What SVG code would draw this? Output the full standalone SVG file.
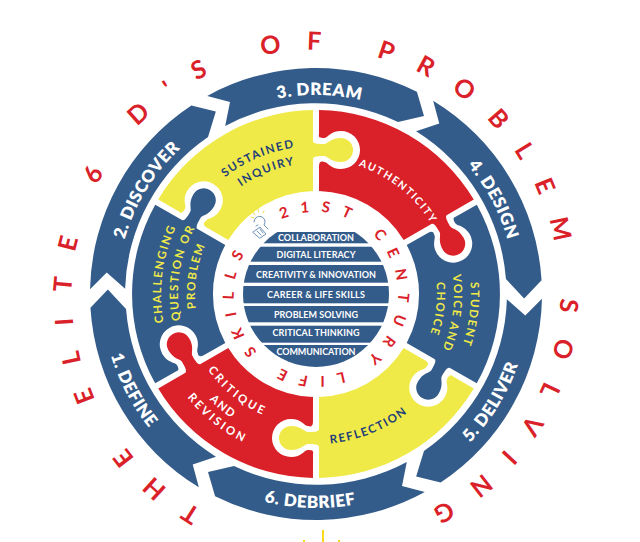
<svg xmlns="http://www.w3.org/2000/svg" width="640" height="542" viewBox="0 0 640 542">
<style>
text{font-family:"Lato","Liberation Sans",sans-serif;font-weight:700;text-anchor:middle}
.blue{fill:#345C8A}.yellow{fill:#F0EA48}.red{fill:#DA2129}
.step{fill:#fff;font-size:17px;letter-spacing:.5px;font-weight:800}
.title{fill:#DA2129;font-size:25px;letter-spacing:25.2px}
.inner{fill:#DA2129;font-size:15px;letter-spacing:11.6px;word-spacing:2px}
.pz{font-size:11.5px;letter-spacing:1.6px}
.row{fill:#fff;font-size:9px}
</style>
<defs>
<path id="seg" d="M-108.8,-198.1 A226 226 0 0 1 100.9,-202.2 L108,-178 L82,-172 A191 191 0 0 0 -90.8,-168 L-86,-192 Z"/>
<path id="piece" d="M-157.8,-94.6 A184 184 0 0 1 -3,-183.9 L-3,-153 C-3,-150 3,-150 8,-150 C12,-150 14,-156 25,-156 A12 12 0 0 1 25,-132 C14,-132 12,-138 8,-138 C3,-138 -3,-138 -3,-135 L-3,-103 A103 103 0 0 0 -87.7,-54.1 L-109.3,-66.6 C-112.8,-68.6 -112.8,-71 -110.3,-72.9 C-108.3,-76.4 -101.25,-74.6 -95.75,-84.15 A19 19 0 0 0 -128.7,-103.15 C-134.2,-93.6 -129.1,-88.4 -131.1,-84.9 C-133.6,-80.6 -135,-80.6 -137.1,-82.6 Z"/>
<clipPath id="tableClip"><circle cx="316" cy="294" r="73"/></clipPath>
<path id="cw199" d="M0,199 A199 199 0 1 1 0,-199 A199 199 0 1 1 0,199"/>
<path id="ccw214" d="M0,-214 A214 214 0 1 0 0,214 A214 214 0 1 0 0,-214"/>
<path id="cw244" d="M0,244 A244 244 0 1 1 0,-244 A244 244 0 1 1 0,244"/>
<path id="cw82" d="M0,82 A82 82 0 1 1 0,-82 A82 82 0 1 1 0,82"/>
<path id="cw148" d="M0,148 A148 148 0 1 1 0,-148 A148 148 0 1 1 0,148"/>
<path id="cw131" d="M0,131 A131 131 0 1 1 0,-131 A131 131 0 1 1 0,131"/>
<path id="cw135" d="M0,135 A135 135 0 1 1 0,-135 A135 135 0 1 1 0,135"/>
<path id="cw155" d="M0,155 A155 155 0 1 1 0,-155 A155 155 0 1 1 0,155"/>
<path id="cw138" d="M0,138 A138 138 0 1 1 0,-138 A138 138 0 1 1 0,138"/>
<path id="cw121" d="M0,121 A121 121 0 1 1 0,-121 A121 121 0 1 1 0,121"/>
<path id="ccw132" d="M0,-132 A132 132 0 1 0 0,132 A132 132 0 1 0 0,-132"/>
<path id="ccw150" d="M0,-150 A150 150 0 1 0 0,150 A150 150 0 1 0 0,-150"/>
<path id="ccw165" d="M0,-165 A165 165 0 1 0 0,165 A165 165 0 1 0 0,-165"/>
</defs>
<rect width="640" height="542" fill="#fff"/>

<g id="title"><g transform="translate(316 294)"><text class="title" transform="rotate(2.7)"><textPath href="#cw244" startOffset="50%">THE ELITE 6 D'S OF PROBLEM SOLVING</textPath></text></g></g>

<g id="connectors"></g>

<g id="step-3-dream" transform="translate(316 294)"><use href="#seg" class="blue"/><text class="step" transform="rotate(1)"><textPath href="#cw199" startOffset="50%">3. DREAM</textPath></text></g>
<g id="step-4-design" transform="translate(316 294)"><use href="#seg" class="blue" transform="rotate(60)"/><text class="step" transform="rotate(62)"><textPath href="#cw199" startOffset="50%">4. DESIGN</textPath></text></g>
<g id="step-5-deliver" transform="translate(316 294)"><use href="#seg" class="blue" transform="rotate(120)"/><text class="step" transform="rotate(-58.4)"><textPath href="#ccw214" startOffset="50%">5. DELIVER</textPath></text></g>
<g id="step-6-debrief" transform="translate(316 294)"><use href="#seg" class="blue" transform="rotate(180)"/><text class="step" transform="rotate(1.6)"><textPath href="#ccw214" startOffset="50%">6. DEBRIEF</textPath></text></g>
<g id="step-1-define" transform="translate(316 294)"><use href="#seg" class="blue" transform="rotate(240)"/><text class="step" transform="rotate(62.3)"><textPath href="#ccw214" startOffset="50%">1. DEFINE</textPath></text></g>
<g id="step-2-discover" transform="translate(316 294)"><use href="#seg" class="blue" transform="rotate(300)"/><text class="step" transform="rotate(-58.5)"><textPath href="#cw199" startOffset="50%">2. DISCOVER</textPath></text></g>

<g id="sustained-inquiry" transform="translate(316 294)"><use href="#piece" class="yellow"/>
<text class="pz" fill="#1F3F78" transform="rotate(-23)"><textPath href="#cw148" startOffset="50%">SUSTAINED</textPath></text>
<text class="pz" fill="#1F3F78" transform="rotate(-22)"><textPath href="#cw131" startOffset="50%">INQUIRY</textPath></text></g>
<g id="authenticity" transform="translate(316 294)"><use href="#piece" class="red" transform="rotate(60)"/>
<text class="pz" fill="#fff" transform="rotate(38.6)" style="font-size:10.5px"><textPath href="#cw135" startOffset="50%">AUTHENTICITY</textPath></text></g>
<g id="student-voice" transform="translate(316 294)"><use href="#piece" class="blue" transform="rotate(120)"/>
<text class="pz" fill="#F0EA48" transform="rotate(97.5)"><textPath href="#cw155" startOffset="50%">STUDENT</textPath></text>
<text class="pz" fill="#F0EA48" transform="rotate(98)"><textPath href="#cw138" startOffset="50%">VOICE AND</textPath></text>
<text class="pz" fill="#F0EA48" transform="rotate(97)"><textPath href="#cw121" startOffset="50%">CHOICE</textPath></text></g>
<g id="reflection" transform="translate(316 294)"><use href="#piece" class="yellow" transform="rotate(180)"/>
<text class="pz" fill="#1F3F78" transform="rotate(-21.7)"><textPath href="#ccw150" startOffset="50%">REFLECTION</textPath></text></g>
<g id="critique" transform="translate(316 294)"><use href="#piece" class="red" transform="rotate(240)"/>
<text class="pz" fill="#fff" transform="rotate(39)" style="letter-spacing:2.6px"><textPath href="#ccw132" startOffset="50%">CRITIQUE</textPath></text>
<text class="pz" fill="#fff" transform="rotate(39.5)"><textPath href="#ccw150" startOffset="50%">AND</textPath></text>
<text class="pz" fill="#fff" transform="rotate(38.4)" style="letter-spacing:2.6px"><textPath href="#ccw165" startOffset="50%">REVISION</textPath></text></g>
<g id="challenging" transform="translate(316 294)"><use href="#piece" class="blue" transform="rotate(300)"/>
<text class="pz" fill="#F0EA48" transform="rotate(-82.4)"><textPath href="#cw155" startOffset="50%">CHALLENGING</textPath></text>
<text class="pz" fill="#F0EA48" transform="rotate(-81)"><textPath href="#cw138" startOffset="50%">QUESTION OR</textPath></text>
<text class="pz" fill="#F0EA48" transform="rotate(-81.4)"><textPath href="#cw121" startOffset="50%">PROBLEM</textPath></text></g>

<g id="skills-title" transform="translate(316 294)"><text class="inner" transform="rotate(141)"><textPath href="#cw82" startOffset="50%">21ST CENTURY LIFE SKILLS</textPath></text></g>

<g id="skills-table">
<g clip-path="url(#tableClip)" class="blue">
<rect x="240" y="232" width="152" height="11.3"/>
<rect x="240" y="246.7" width="152" height="15"/>
<rect x="240" y="265" width="152" height="17.7"/>
<rect x="240" y="286" width="152" height="17.3"/>
<rect x="240" y="306" width="152" height="16.3"/>
<rect x="240" y="325.7" width="152" height="17"/>
<rect x="240" y="345" width="152" height="22"/>
</g>
<text class="row" x="316" y="240.5" textLength="76">COLLABORATION</text>
<text class="row" x="316" y="258" textLength="79">DIGITAL LITERACY</text>
<text class="row" x="316" y="278" textLength="120">CREATIVITY &amp; INNOVATION</text>
<text class="row" x="316" y="297.5" textLength="98">CAREER &amp; LIFE SKILLS</text>
<text class="row" x="316" y="317.5" textLength="84">PROBLEM SOLVING</text>
<text class="row" x="316" y="336" textLength="87">CRITICAL THINKING</text>
<text class="row" x="316" y="355" textLength="79">COMMUNICATION</text>
</g>

<g id="logo-icon" fill="none" stroke-linecap="round">
<g stroke="#F0D94A" stroke-width="1"><path d="M251,217l3,1M253,212l2,3M258,209l.5,3M264,211l-1,2"/></g>
<g stroke="#6F92B8" stroke-width="1"><path d="M254,222a5.5,5.5 0 1 1 10,3l4,4M256,226l2,-1M253,232l7,-5l6,7l-6,4zM257,231l4,4M260,229l3,4"/></g>
</g>
<g id="bottom-marks" fill="#F7D81C"><rect x="322" y="530" width="2" height="12"/><rect x="303" y="540" width="2" height="2"/><rect x="338" y="540" width="2" height="2"/></g>
</svg>
